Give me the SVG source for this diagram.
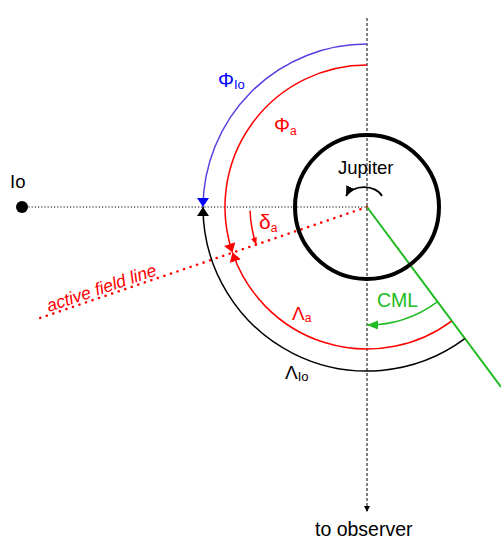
<svg xmlns="http://www.w3.org/2000/svg" width="501" height="540" viewBox="0 0 501 540">
<style>
text{font-family:"Liberation Sans","DejaVu Sans",sans-serif}
.arc{fill:none;stroke-width:1.5}
</style>
<defs>
<marker id="mBlue" viewBox="0 0 9 12" refX="9" refY="6" markerWidth="9" markerHeight="12" markerUnits="userSpaceOnUse" orient="auto"><path d="M0 0L9 6L0 12z" fill="#0000ff"/></marker>
<marker id="mBlack" viewBox="0 0 9 12" refX="9" refY="6" markerWidth="9" markerHeight="12" markerUnits="userSpaceOnUse" orient="auto"><path d="M0 0L9 6L0 12z" fill="#000"/></marker>
<marker id="mRed" viewBox="0 0 9 12" refX="9" refY="6" markerWidth="9" markerHeight="12" markerUnits="userSpaceOnUse" orient="auto"><path d="M0 0L9 6L0 12z" fill="#ff0000"/></marker>
<marker id="mRedS" viewBox="0 0 7 6" refX="7" refY="3" markerWidth="7" markerHeight="6" markerUnits="userSpaceOnUse" orient="auto"><path d="M0 0L7 3L0 6z" fill="#ff0000"/></marker>
<marker id="mGreen" viewBox="0 0 11 9" refX="11" refY="4.5" markerWidth="11" markerHeight="9" markerUnits="userSpaceOnUse" orient="auto"><path d="M0 0L11 4.5L0 9z" fill="#22bb22"/></marker>
<marker id="mBlackS" viewBox="0 0 10 9" refX="10" refY="4.5" markerWidth="10" markerHeight="9" markerUnits="userSpaceOnUse" orient="auto"><path d="M0 0L10 4.5L0 9z" fill="#000"/></marker>
<marker id="mTiny" viewBox="0 0 6 6" refX="6" refY="3" markerWidth="6" markerHeight="6" markerUnits="userSpaceOnUse" orient="auto"><path d="M0 0L6 3L0 6z" fill="#000"/></marker>
</defs>

<g id="connectors">
  <line x1="367" y1="18" x2="367" y2="512" stroke="#000" stroke-width="1" stroke-dasharray="3 2" marker-end="url(#mTiny)"/>
  <line x1="22" y1="207" x2="367" y2="207" stroke="#000" stroke-width="1" stroke-dasharray="1.2 2"/>
  <line id="active-field-line" x1="367" y1="207" x2="40" y2="318" stroke="#ff0000" stroke-width="2.5" stroke-linecap="round" stroke-dasharray="0.1 6.8"/>
  <line x1="367" y1="207" x2="501" y2="387" stroke="#22bb22" stroke-width="2"/>
  <path class="arc" d="M367 44A164 164 0 0 0 203 207" stroke="#5c3fe0" marker-end="url(#mBlue)"/>
  <path class="arc" d="M464.8 338.7A164 164 0 0 1 203 207" stroke="#000" marker-end="url(#mBlack)"/>
  <path class="arc" d="M367 65A142 142 0 0 0 232.5 252.6" stroke="#ff0000" marker-end="url(#mRed)"/>
  <path class="arc" d="M451.6 321.1A142 142 0 0 1 232.5 252.6" stroke="#ff0000" marker-end="url(#mRed)"/>
  <path class="arc" d="M437.3 301.8A118 118 0 0 1 367 325" stroke="#22bb22" marker-end="url(#mGreen)"/>
  <path class="arc" d="M250.1 210.7A117 117 0 0 0 256.2 244.6" stroke="#ff0000" stroke-width="1.2" fill="none" marker-end="url(#mRedS)"/>
  <path d="M382 196A19 13 0 0 0 346 196" fill="none" stroke="#000" stroke-width="1.8" marker-end="url(#mBlackS)"/>
</g>

<g id="jupiter">
  <circle cx="367" cy="207" r="72" fill="none" stroke="#000" stroke-width="4"/>
  <text x="338" y="174" font-size="18.5">Jupiter</text>
</g>

<g id="io">
  <circle cx="22" cy="207" r="6" fill="#000"/>
  <text x="10" y="188" font-size="18.5">Io</text>
</g>

<g id="labels">
  <text x="218" y="87" font-size="20" fill="#0000ff">Φ<tspan font-size="13" dy="2">Io</tspan></text>
  <text x="274" y="132" font-size="20" fill="#ff0000">Φ<tspan font-size="12" dy="3">a</tspan></text>
  <text x="259" y="229" font-size="21" fill="#ff0000">δ<tspan font-size="12" dy="3">a</tspan></text>
  <text x="292" y="320" font-size="19" fill="#ff0000">Λ<tspan font-size="12" dy="2">a</tspan></text>
  <text x="285" y="379" font-size="19" fill="#000">Λ<tspan font-size="13" dy="2">Io</tspan></text>
  <text x="377" y="307" font-size="19.5" fill="#22bb22">CML</text>
  <text x="49" y="312" font-size="17.5" font-style="italic" fill="#ff0000" transform="rotate(-18.75 49 312)">active field line</text>
  <text x="315" y="536" font-size="19.5" fill="#000">to observer</text>
</g>
</svg>
